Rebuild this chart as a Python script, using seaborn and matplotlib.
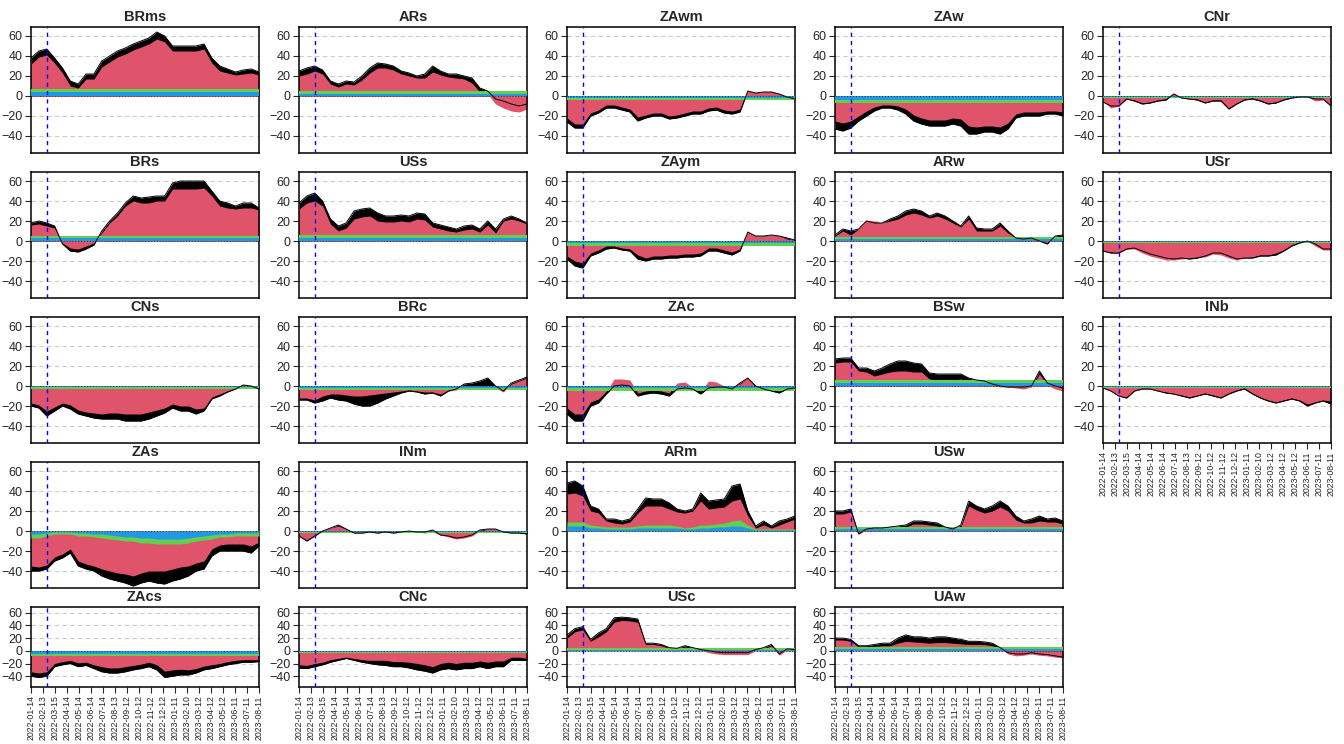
import numpy as np
import pandas as pd
import matplotlib
matplotlib.use("Agg")
import matplotlib.pyplot as plt
import seaborn as sns

# sample dates (about every 20 days) and axis ticks
dates = pd.date_range("2022-01-14", "2023-08-11", periods=30)
tick_labels = ["2022-01-14", "2022-02-13", "2022-03-15", "2022-04-14", "2022-05-14",
               "2022-06-14", "2022-07-14", "2022-08-13", "2022-09-12", "2022-10-12",
               "2022-11-12", "2022-12-12", "2023-01-11", "2023-02-10", "2023-03-12",
               "2023-04-12", "2023-05-12", "2023-06-11", "2023-07-11", "2023-08-11"]
war_date = "2022-02-24"

# each panel: black total, red component, blue and green bands
BRms_top = [38,45,47,38,28,15,12,22,22,35,40,45,48,52,55,58,64,60,50,50,50,50,52,38,30,27,24,26,27,24]
BRms_red = [32,39,41,33,23,10,8,17,17,29,34,39,42,46,49,52,57,54,45,45,45,45,47,33,25,23,21,22,23,21]
BRs_top = [18,20,18,15,-3,-10,-11,-8,-4,10,20,28,38,45,43,44,45,45,58,60,60,60,60,50,40,38,35,38,38,33]
BRs_red = [16,17,15,13,-2,-7,-8,-5,-2,8,18,25,35,40,38,38,40,40,52,52,52,52,53,45,35,33,32,33,33,31]
CNs_top = [-20,-22,-30,-25,-20,-23,-28,-30,-32,-33,-33,-33,-35,-35,-35,-33,-30,-27,-22,-25,-25,-28,-25,-13,-10,-6,-3,1,0,-3]
CNs_red = [-17,-19,-25,-21,-17,-19,-24,-26,-27,-28,-27,-27,-28,-28,-28,-26,-24,-22,-18,-20,-20,-23,-22,-11,-8,-5,-3,1,0,-2]
ZAs_top = [-40,-40,-38,-30,-27,-22,-35,-38,-40,-45,-48,-50,-52,-55,-52,-50,-52,-53,-50,-48,-45,-40,-38,-25,-20,-20,-20,-20,-22,-15]
ZAs_red = [-35,-36,-34,-26,-23,-18,-30,-33,-35,-38,-40,-42,-43,-45,-42,-40,-40,-40,-38,-36,-35,-32,-30,-18,-14,-13,-13,-13,-15,-11]
ZAs_blue = [-3,-3,-2,-1,-1,-1,-2,-2,-3,-3,-4,-5,-6,-6,-7,-7,-8,-8,-8,-8,-7,-6,-5,-4,-3,-3,-2,-2,-2,-2]
ZAs_green = [-4,-4,-3,-2,-2,-2,-3,-3,-3,-4,-4,-4,-4,-4,-5,-5,-5,-5,-5,-5,-5,-4,-4,-4,-3,-3,-3,-3,-3,-3]
ZAcs_top = [-40,-42,-40,-25,-22,-20,-25,-23,-28,-33,-35,-35,-33,-30,-28,-25,-30,-42,-40,-38,-38,-35,-30,-28,-25,-22,-20,-18,-18,-17]
ZAcs_red = [-33,-35,-33,-20,-17,-15,-19,-18,-22,-25,-27,-27,-25,-23,-21,-18,-22,-32,-30,-29,-30,-28,-24,-22,-20,-17,-15,-14,-14,-14]

ARs_top = [25,28,30,26,15,12,15,14,20,28,33,32,30,25,23,20,22,30,25,22,22,20,18,8,5,-3,-5,-8,-10,-8]
ARs_red = [20,22,25,22,12,9,12,11,16,23,28,28,26,22,20,18,18,24,21,19,18,17,13,4,2,-8,-12,-15,-16,-13]
USs_top = [38,45,48,40,22,15,18,30,32,33,28,25,25,26,25,28,27,18,16,14,12,15,16,12,20,12,22,25,22,18]
USs_red = [32,38,40,35,17,10,13,22,24,25,20,19,19,20,19,22,21,14,12,10,9,11,12,9,16,8,20,22,20,17]
BRc_top = [-14,-14,-17,-15,-12,-14,-15,-18,-20,-20,-17,-13,-10,-7,-5,-6,-8,-7,-10,-5,-3,2,3,5,8,0,-5,3,6,9]
BRc_red = [-12,-12,-14,-10,-8,-8,-9,-10,-10,-9,-8,-7,-6,-5,-4,-5,-6,-6,-8,-5,-4,-2,-1,-2,-3,-2,-6,2,5,8]
INm_top = [-5,-10,-5,0,3,6,2,-2,-2,-1,-2,-1,-2,-1,0,-1,-1,1,-4,-5,-7,-6,-4,1,2,2,-1,-2,-2,-3]
INm_red = [-5,-9,-5,0,3,5,2,-2,-2,-1,-2,-1,-2,-1,0,-1,-2,-1,-4,-6,-8,-7,-5,0,2,2,-1,-2,-1,-2]
CNc_top = [-27,-28,-25,-22,-18,-15,-12,-15,-18,-20,-22,-23,-25,-25,-27,-30,-32,-35,-30,-28,-30,-28,-28,-25,-28,-25,-25,-15,-15,-15]
CNc_red = [-22,-23,-20,-18,-14,-12,-10,-12,-14,-15,-15,-15,-17,-17,-18,-20,-22,-25,-20,-18,-20,-18,-18,-16,-18,-16,-16,-10,-10,-12]

ZAwm_top = [-26,-32,-32,-20,-17,-12,-12,-14,-16,-25,-22,-20,-20,-23,-22,-20,-18,-18,-15,-14,-17,-18,-16,5,3,4,4,2,-1,-3]
ZAwm_red = [-22,-28,-28,-17,-14,-9,-9,-11,-13,-21,-19,-17,-17,-20,-19,-17,-15,-15,-12,-11,-14,-15,-13,5,3,4,4,2,-1,-4]
ZAym_top = [-18,-25,-27,-15,-12,-8,-7,-9,-10,-18,-20,-18,-18,-17,-17,-16,-16,-15,-10,-10,-12,-14,-10,9,5,5,6,5,3,1]
ZAym_red = [-15,-20,-22,-12,-9,-5,-5,-7,-8,-14,-17,-15,-15,-14,-14,-13,-13,-12,-7,-7,-9,-11,-8,9,5,5,6,5,2,1]
ZAc_top = [-28,-35,-35,-20,-17,-8,0,1,0,-10,-8,-7,-8,-10,-3,-2,-3,-8,-2,-1,-1,-3,3,8,0,-3,-5,-7,-3,-2]
ZAc_red = [-22,-28,-28,-16,-13,-5,7,7,6,-7,-5,-4,-5,-7,3,4,-1,-5,5,4,0,-1,2,8,-1,-2,-4,-5,-1,-1]
ARm_top = [48,50,45,25,22,12,12,10,12,22,33,32,32,28,22,20,22,38,30,31,32,45,47,20,5,10,5,10,12,15]
ARm_red = [37,38,35,20,18,10,8,7,9,18,25,25,25,22,19,18,20,30,22,23,24,30,32,15,3,6,3,6,9,12]
ARm_blue = [5,5,5,3,3,2,2,2,2,3,3,3,3,3,3,2,2,3,3,4,4,5,5,3,1,1,1,1,1,1]
ARm_green = [4,4,4,3,2,2,2,2,2,2,3,3,3,3,2,1,2,3,3,3,4,5,6,3,1,1,1,1,1,1]
USc_top = [25,35,38,18,28,35,52,53,52,50,12,12,10,5,4,8,5,2,0,-2,-3,-3,-3,-3,2,5,10,-5,3,2]
USc_red = [20,30,33,15,22,30,45,48,47,45,10,10,8,4,3,6,4,1,-3,-5,-6,-6,-6,-6,0,3,8,-7,2,1]

ZAw_top = [-33,-35,-32,-25,-20,-15,-12,-12,-14,-18,-25,-28,-30,-30,-30,-28,-30,-38,-38,-36,-36,-38,-33,-22,-20,-20,-20,-18,-18,-20]
ZAw_red = [-25,-27,-25,-20,-15,-11,-9,-9,-10,-13,-19,-22,-24,-24,-24,-22,-23,-30,-31,-30,-30,-31,-27,-18,-16,-16,-16,-15,-15,-16]
ARw_top = [6,12,10,12,20,18,18,22,25,30,32,30,25,28,25,20,15,25,13,12,12,18,10,3,2,3,0,-3,5,6]
ARw_red = [5,10,6,12,21,20,18,20,22,26,28,26,23,25,22,18,14,22,10,10,10,15,8,3,3,4,1,-2,4,5]
BSw_top = [27,28,28,18,18,15,18,22,25,25,23,22,13,12,12,12,12,8,6,5,2,0,-1,-1,-1,0,15,3,0,-2]
BSw_red = [23,24,24,15,14,10,12,14,15,15,14,14,7,6,6,6,7,5,4,3,1,-1,-1,-2,-3,-1,12,1,-3,-5]
USw_top = [20,20,22,-3,2,3,3,4,5,6,10,10,9,8,4,2,6,30,25,22,25,30,25,15,10,12,15,12,13,10]
USw_red = [17,17,19,-3,1,1,1,2,3,4,7,7,6,5,3,2,4,25,21,18,20,24,20,11,8,8,10,9,9,7]
UAw_top = [20,20,18,8,8,10,12,12,20,25,22,22,20,22,22,20,18,15,15,14,12,5,-3,-5,-5,-3,-5,-6,-8,-10]
UAw_red = [17,17,15,6,6,7,8,8,12,15,14,13,12,13,13,12,11,10,10,10,8,4,-5,-8,-7,-5,-7,-8,-10,-11]

CNr_top = [-6,-10,-10,-3,-5,-8,-7,-5,-4,2,-2,-3,-4,-7,-5,-5,-13,-8,-4,-3,-5,-8,-7,-4,-2,-1,-1,-3,-3,-10]
CNr_red = [-5,-12,-10,-3,-4,-7,-6,-4,-3,3,-2,-3,-3,-6,-4,-4,-12,-7,-3,-2,-4,-7,-6,-3,-1,0,-1,-5,-4,-10]
USr_top = [-10,-12,-12,-8,-7,-10,-13,-15,-17,-18,-17,-18,-17,-15,-12,-12,-15,-18,-17,-17,-15,-15,-14,-10,-5,-2,0,-3,-8,-8]
USr_red = [-10,-11,-12,-8,-8,-12,-15,-17,-19,-19,-18,-17,-16,-16,-13,-14,-17,-19,-17,-16,-14,-14,-12,-9,-4,-1,0,-5,-9,-9]
INb_top = [-2,-5,-10,-12,-5,-3,-3,-5,-7,-8,-10,-12,-10,-8,-10,-12,-8,-5,-3,-8,-12,-15,-17,-15,-13,-15,-20,-17,-15,-18]
INb_red = [-2,-5,-10,-11,-5,-3,-3,-5,-6,-8,-9,-11,-9,-7,-9,-11,-7,-4,-2,-7,-11,-14,-16,-14,-12,-14,-18,-16,-14,-15]

# name: (top, red, blue band, green band)
panels = {
    "BRms": (BRms_top, BRms_red, 4, 3), "BRs": (BRs_top, BRs_red, 3, 2),
    "CNs": (CNs_top, CNs_red, -1, -2), "ZAs": (ZAs_top, ZAs_red, ZAs_blue, ZAs_green),
    "ZAcs": (ZAcs_top, ZAcs_red, -5, -3),
    "ARs": (ARs_top, ARs_red, 2, 3), "USs": (USs_top, USs_red, 3, 3),
    "BRc": (BRc_top, BRc_red, -2, -2), "INm": (INm_top, INm_red, -1, -1),
    "CNc": (CNc_top, CNc_red, -2, -2),
    "ZAwm": (ZAwm_top, ZAwm_red, -2, -2), "ZAym": (ZAym_top, ZAym_red, -2, -3),
    "ZAc": (ZAc_top, ZAc_red, -2, -3), "ARm": (ARm_top, ARm_red, ARm_blue, ARm_green),
    "USc": (USc_top, USc_red, 2, 2),
    "ZAw": (ZAw_top, ZAw_red, -4, -3), "ARw": (ARw_top, ARw_red, 2, 2),
    "BSw": (BSw_top, BSw_red, 3, 3), "USw": (USw_top, USw_red, 2, 2),
    "UAw": (UAw_top, UAw_red, 3, 3),
    "CNr": (CNr_top, CNr_red, -1, -1), "USr": (USr_top, USr_red, -1, -1),
    "INb": (INb_top, INb_red, -1, -1),
}
columns = [["BRms", "BRs", "CNs", "ZAs", "ZAcs"],
           ["ARs", "USs", "BRc", "INm", "CNc"],
           ["ZAwm", "ZAym", "ZAc", "ARm", "USc"],
           ["ZAw", "ARw", "BSw", "USw", "UAw"],
           ["CNr", "USr", "INb"]]

RED, GREEN, BLUE = "#DF536B", "#61D04F", "#2297E6"

sns.set_theme(style="white")
plt.rcParams["font.family"] = ["Liberation Sans", "DejaVu Sans"]

W, H = 1344, 744
fig = plt.figure(figsize=(W / 100, H / 100), dpi=100)

col_left = [31, 299, 567, 835, 1103]
row_top = [27, 172, 317, 462, 607]
ticks = pd.to_datetime(tick_labels)
xmin, xmax = pd.Timestamp(tick_labels[0]), pd.Timestamp(tick_labels[-1])


def draw_panel(ax, name, show_x):
    top, red, blue, green = panels[name]
    top = np.array(top, float)
    red = np.array(red, float)
    blue = np.broadcast_to(np.array(blue, float), top.shape)
    green = blue + np.broadcast_to(np.array(green, float), top.shape)
    for y in [-40, -20, 20, 40, 60]:
        ax.axhline(y, color="#cccccc", ls=(0, (4, 3)), lw=0.8, zorder=0)
    ax.fill_between(dates, 0, top, color="black", lw=0, zorder=1)
    ax.fill_between(dates, 0, red, color=RED, lw=0, zorder=2)
    ax.fill_between(dates, 0, green, color=GREEN, lw=0, zorder=3)
    ax.fill_between(dates, 0, blue, color=BLUE, lw=0, zorder=4)
    sns.lineplot(x=dates, y=top, ax=ax, color="black", lw=0.7, zorder=5)
    ax.axhline(0, color="#333333", ls=(0, (1, 2)), lw=0.7, zorder=6)
    ax.axvline(pd.Timestamp(war_date), color="blue", ls=(0, (3, 3)), lw=1.0, zorder=7)
    ax.set_xlim(xmin, xmax)
    ax.set_ylim(-57, 69)
    ax.set_yticks([-40, -20, 0, 20, 40, 60])
    ax.tick_params(axis="y", labelsize=9, length=4, width=0.8, left=True, pad=2)
    ax.set_title(name, fontsize=10.5, fontweight="bold", pad=4)
    ax.set_xlabel("")
    ax.set_ylabel("")
    if show_x:
        ax.set_xticks(ticks)
        ax.set_xticklabels(tick_labels, rotation=90, fontsize=6.3)
        ax.tick_params(axis="x", length=4, width=0.8, bottom=True, pad=2)
    else:
        ax.set_xticks([])
    for s in ax.spines.values():
        s.set_color("black")
        s.set_linewidth(1.1)


for c, names in enumerate(columns):
    for r, name in enumerate(names):
        h = 80 if r == 4 else 126
        ax = fig.add_axes([col_left[c] / W, 1 - (row_top[r] + h) / H, 228 / W, h / H])
        draw_panel(ax, name, show_x=(r == len(names) - 1))

fig.savefig("out.png", dpi=100)
